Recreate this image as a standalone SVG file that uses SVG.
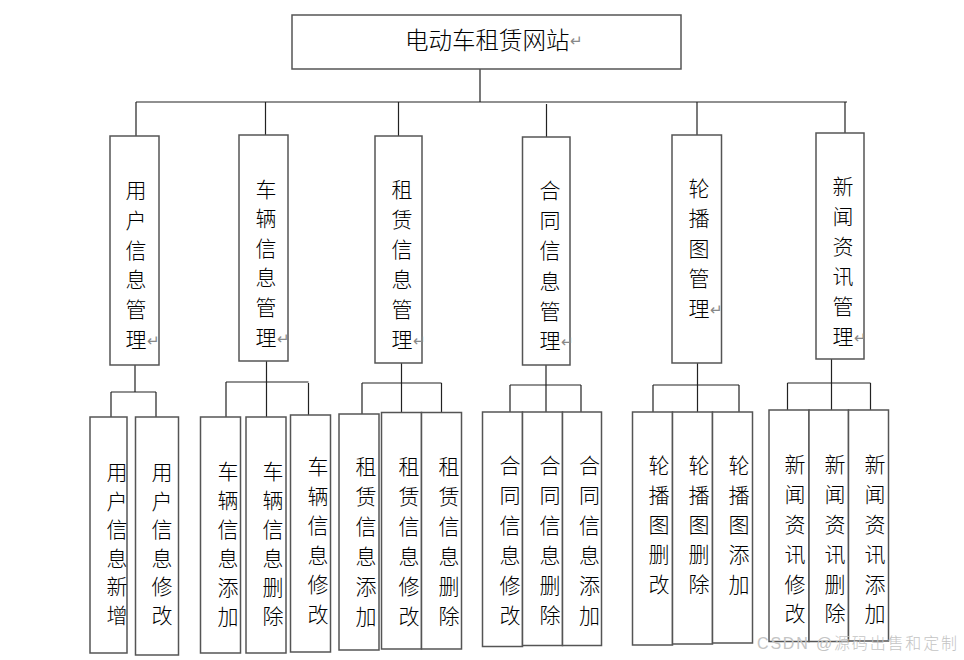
<svg xmlns="http://www.w3.org/2000/svg" width="964" height="660" viewBox="0 0 964 660">
<style>
.box{fill:#fff;stroke:#555;stroke-width:1.5}
.ln{fill:none;stroke:#222;stroke-width:1.2}
text{font-family:"Liberation Serif","Noto Sans CJK SC",serif;fill:#000;font-weight:300}
.v{font-size:21px;text-anchor:middle;dominant-baseline:central}
.rt{font-family:"DejaVu Sans",sans-serif;font-size:15px;fill:#888;dominant-baseline:central}
.wm{font-family:"Liberation Sans","Noto Sans CJK SC",sans-serif;font-size:16px;fill:#c4c4c4;dominant-baseline:central}
</style>
<rect width="964" height="660" fill="#fff"/>
<g id="connectors">
<path class="ln" d="M480,69V102M136,102H847M136,102V136M265.5,102V135M398.5,102V136M546.5,104V137M697,102V135M845,102V133"/>
<path class="ln" d="M135,365V392M111,392H156M111,392V417M156,392V417"/>
<path class="ln" d="M266.5,361V383M226,382H308.5M226,382V417M266.5,383V417M308.5,383V415"/>
<path class="ln" d="M401.5,363V413M362,383H441.5M362,383V414M441.5,383V413"/>
<path class="ln" d="M546,365V412M510,385H581M510,385V412M581,385V412"/>
<path class="ln" d="M697.5,363V412M653,385H739M653,385V412M739,385V412"/>
<path class="ln" d="M831.5,359V410M787.5,383H870.5M787.5,383V410M870.5,383V410"/>
</g>
<g id="root">
<rect class="box" x="292" y="15" width="389" height="54"/>
<text x="405" y="41" font-size="23.5" dominant-baseline="central">电动车租赁网站<tspan class="rt" font-size="17">↵</tspan></text>
</g>
<g id="n-user">
<rect class="box" x="110" y="136" width="49" height="229"/>
<text class="v"><tspan x="136" y="191">用</tspan><tspan x="136" y="221">户</tspan><tspan x="136" y="251">信</tspan><tspan x="136" y="280">息</tspan><tspan x="136" y="310">管</tspan><tspan x="136" y="340">理</tspan></text>
<text class="rt" x="147" y="341">↵</text>
</g>
<g id="n-car">
<rect class="box" x="239" y="135" width="49" height="226"/>
<text class="v"><tspan x="266" y="190">车</tspan><tspan x="266" y="219">辆</tspan><tspan x="266" y="249">信</tspan><tspan x="266" y="278">息</tspan><tspan x="266" y="308">管</tspan><tspan x="266" y="338">理</tspan></text>
<text class="rt" x="277" y="339">↵</text>
</g>
<g id="n-rent">
<rect class="box" x="375" y="136" width="47" height="227"/>
<text class="v"><tspan x="402" y="190">租</tspan><tspan x="402" y="220">赁</tspan><tspan x="402" y="250">信</tspan><tspan x="402" y="280">息</tspan><tspan x="402" y="310">管</tspan><tspan x="402" y="340">理</tspan></text>
<text class="rt" x="413" y="341">↵</text>
</g>
<g id="n-contract">
<rect class="box" x="522.5" y="137" width="47.5" height="228"/>
<text class="v"><tspan x="550" y="191">合</tspan><tspan x="550" y="221">同</tspan><tspan x="550" y="251">信</tspan><tspan x="550" y="282">息</tspan><tspan x="550" y="312">管</tspan><tspan x="550" y="341">理</tspan></text>
<text class="rt" x="561" y="342">↵</text>
</g>
<g id="n-carousel">
<rect class="box" x="672" y="135" width="49.5" height="228"/>
<text class="v"><tspan x="699" y="189">轮</tspan><tspan x="699" y="219">播</tspan><tspan x="699" y="249">图</tspan><tspan x="699" y="279">管</tspan><tspan x="699" y="309">理</tspan></text>
<text class="rt" x="710" y="310">↵</text>
</g>
<g id="n-news">
<rect class="box" x="816" y="133" width="48" height="226"/>
<text class="v"><tspan x="843" y="187">新</tspan><tspan x="843" y="217">闻</tspan><tspan x="843" y="247">资</tspan><tspan x="843" y="277">讯</tspan><tspan x="843" y="307">管</tspan><tspan x="843" y="337">理</tspan></text>
<text class="rt" x="854" y="338">↵</text>
</g>
<g id="u-add">
<rect class="box" x="90" y="417" width="37" height="236"/>
<text class="v"><tspan x="117" y="473">用</tspan><tspan x="117" y="501.5">户</tspan><tspan x="117" y="530">信</tspan><tspan x="117" y="558.5">息</tspan><tspan x="117" y="587">新</tspan><tspan x="117" y="615.5">增</tspan></text>
</g>
<g id="u-edit">
<rect class="box" x="135.5" y="417" width="43" height="238"/>
<text class="v"><tspan x="162" y="473">用</tspan><tspan x="162" y="501.5">户</tspan><tspan x="162" y="530">信</tspan><tspan x="162" y="558.5">息</tspan><tspan x="162" y="587">修</tspan><tspan x="162" y="615.5">改</tspan></text>
</g>
<g id="c-add">
<rect class="box" x="200.5" y="417" width="40" height="236"/>
<text class="v"><tspan x="228" y="471.5">车</tspan><tspan x="228" y="500.5">辆</tspan><tspan x="228" y="529.5">信</tspan><tspan x="228" y="558.5">息</tspan><tspan x="228" y="587.5">添</tspan><tspan x="228" y="616.5">加</tspan></text>
</g>
<g id="c-del">
<rect class="box" x="246" y="417" width="40" height="236"/>
<text class="v"><tspan x="273" y="471.5">车</tspan><tspan x="273" y="500.5">辆</tspan><tspan x="273" y="529.5">信</tspan><tspan x="273" y="558.5">息</tspan><tspan x="273" y="587.5">删</tspan><tspan x="273" y="616.5">除</tspan></text>
</g>
<g id="c-edit">
<rect class="box" x="290.5" y="415" width="40" height="237"/>
<text class="v"><tspan x="318" y="467">车</tspan><tspan x="318" y="496.5">辆</tspan><tspan x="318" y="526">信</tspan><tspan x="318" y="555.5">息</tspan><tspan x="318" y="585">修</tspan><tspan x="318" y="614.5">改</tspan></text>
</g>
<g id="r-add">
<rect class="box" x="339" y="414" width="40" height="236"/>
<text class="v"><tspan x="366" y="466.5">租</tspan><tspan x="366" y="496.5">赁</tspan><tspan x="366" y="526.5">信</tspan><tspan x="366" y="556.5">息</tspan><tspan x="366" y="586.5">添</tspan><tspan x="366" y="616.5">加</tspan></text>
</g>
<g id="r-edit">
<rect class="box" x="381.5" y="412.5" width="40" height="236.5"/>
<text class="v"><tspan x="409" y="466.5">租</tspan><tspan x="409" y="496.5">赁</tspan><tspan x="409" y="526.5">信</tspan><tspan x="409" y="556.5">息</tspan><tspan x="409" y="586.5">修</tspan><tspan x="409" y="616.5">改</tspan></text>
</g>
<g id="r-del">
<rect class="box" x="421.5" y="412.5" width="40" height="236.5"/>
<text class="v"><tspan x="449" y="466.5">租</tspan><tspan x="449" y="496.5">赁</tspan><tspan x="449" y="526.5">信</tspan><tspan x="449" y="556.5">息</tspan><tspan x="449" y="586.5">删</tspan><tspan x="449" y="616.5">除</tspan></text>
</g>
<g id="h-edit">
<rect class="box" x="482.5" y="412" width="40" height="234.5"/>
<text class="v"><tspan x="510" y="466">合</tspan><tspan x="510" y="496">同</tspan><tspan x="510" y="526">信</tspan><tspan x="510" y="556">息</tspan><tspan x="510" y="586">修</tspan><tspan x="510" y="616">改</tspan></text>
</g>
<g id="h-del">
<rect class="box" x="522.5" y="412" width="40" height="233.5"/>
<text class="v"><tspan x="550" y="466">合</tspan><tspan x="550" y="496">同</tspan><tspan x="550" y="526">信</tspan><tspan x="550" y="556">息</tspan><tspan x="550" y="586">删</tspan><tspan x="550" y="616">除</tspan></text>
</g>
<g id="h-add">
<rect class="box" x="562.5" y="412" width="39" height="233.5"/>
<text class="v"><tspan x="589.5" y="466">合</tspan><tspan x="589.5" y="496">同</tspan><tspan x="589.5" y="526">信</tspan><tspan x="589.5" y="556">息</tspan><tspan x="589.5" y="586">添</tspan><tspan x="589.5" y="616">加</tspan></text>
</g>
<g id="p-edit">
<rect class="box" x="632.5" y="412" width="40" height="233"/>
<text class="v"><tspan x="659" y="466">轮</tspan><tspan x="659" y="495.5">播</tspan><tspan x="659" y="525">图</tspan><tspan x="659" y="554.5">删</tspan><tspan x="659" y="585">改</tspan></text>
</g>
<g id="p-del">
<rect class="box" x="672.5" y="412" width="40" height="232"/>
<text class="v"><tspan x="699" y="466">轮</tspan><tspan x="699" y="495.5">播</tspan><tspan x="699" y="525">图</tspan><tspan x="699" y="554.5">删</tspan><tspan x="699" y="585">除</tspan></text>
</g>
<g id="p-add">
<rect class="box" x="712.5" y="412" width="40" height="231"/>
<text class="v"><tspan x="739" y="466">轮</tspan><tspan x="739" y="495.5">播</tspan><tspan x="739" y="525">图</tspan><tspan x="739" y="554.5">添</tspan><tspan x="739" y="585">加</tspan></text>
</g>
<g id="w-edit">
<rect class="box" x="769" y="410" width="40" height="231.5"/>
<text class="v"><tspan x="795" y="465">新</tspan><tspan x="795" y="494.5">闻</tspan><tspan x="795" y="524.5">资</tspan><tspan x="795" y="554.5">讯</tspan><tspan x="795" y="584.5">修</tspan><tspan x="795" y="614">改</tspan></text>
</g>
<g id="w-del">
<rect class="box" x="809" y="410" width="39.5" height="231.5"/>
<text class="v"><tspan x="835" y="465">新</tspan><tspan x="835" y="494.5">闻</tspan><tspan x="835" y="524.5">资</tspan><tspan x="835" y="554.5">讯</tspan><tspan x="835" y="584.5">删</tspan><tspan x="835" y="614">除</tspan></text>
</g>
<g id="w-add">
<rect class="box" x="848.5" y="410" width="40" height="231"/>
<text class="v"><tspan x="875" y="465">新</tspan><tspan x="875" y="494.5">闻</tspan><tspan x="875" y="524.5">资</tspan><tspan x="875" y="554.5">讯</tspan><tspan x="875" y="584.5">添</tspan><tspan x="875" y="614">加</tspan></text>
</g>
<text class="wm" x="757" y="643" textLength="200">CSDN @源码出售和定制</text>
</svg>
